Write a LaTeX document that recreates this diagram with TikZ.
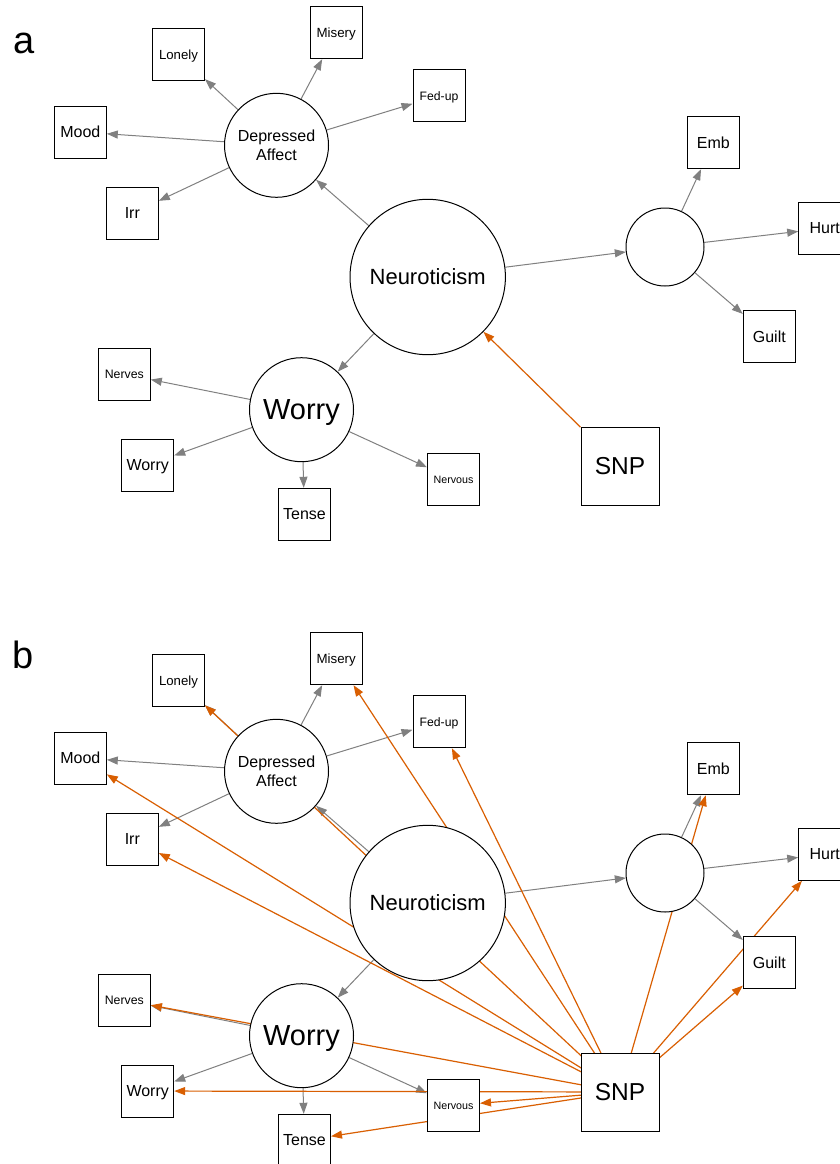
\documentclass[tikz,border=0pt]{standalone}
\usepackage{fontspec}
\setmainfont{Liberation Sans}
\usetikzlibrary{arrows.meta}
\pgfdeclarelayer{background}
\pgfdeclarelayer{canvas}
\pgfsetlayers{canvas,background,main}
\definecolor{edgegray}{RGB}{128,128,128}
\definecolor{snporange}{RGB}{217,95,2}
\tikzset{
  obs/.style={draw=black, line width=1pt, fill=white, minimum size=52pt, inner sep=0pt, text depth=0pt, font=\fontsize{16}{18}\selectfont},
  lat/.style={circle, draw=black, line width=1pt, fill=white, inner sep=0pt, align=center},
  grayedge/.style={draw=edgegray, line width=1pt, -{Triangle[length=11pt,width=8pt]}},
  orangeedge/.style={draw=snporange, line width=1.2pt, -{Triangle[length=11pt,width=8pt]}},
  paneltag/.style={anchor=base west, inner sep=0pt, font=\fontsize{38}{40}\selectfont}
}
\newcommand{\semstructure}{%
  \node[lat, minimum size=104pt, font=\fontsize{16}{19.5}\selectfont] (DA) at (276.5,145.3) {Depressed\\Affect};
  \node[lat, minimum size=155.4pt, font=\fontsize{22}{24}\selectfont] (Neu) at (427.7,277) {Neuroticism};
  \node[lat, minimum size=104pt, text depth=0pt, font=\fontsize{29}{32}\selectfont] (WorryLat) at (301.5,409.7) {Worry};
  \node[lat, minimum size=78pt] (C) at (665,247) {};
  \node[obs, font=\fontsize{13.2}{15}\selectfont] (Lonely) at (178.5,54.7) {Lonely};
  \node[obs, font=\fontsize{13.3}{15}\selectfont] (Misery) at (336.2,32.7) {Misery};
  \node[obs, font=\fontsize{12.2}{14}\selectfont] (Fedup) at (439,95.7) {Fed-up};
  \node[obs] (Mood) at (80.3,132) {Mood};
  \node[obs] (Irr) at (132.3,213.3) {Irr};
  \node[obs] (Emb) at (713.3,142.7) {Emb};
  \node[obs] (Hurt) at (824.7,228.3) {Hurt};
  \node[obs] (Guilt) at (769.3,336.7) {Guilt};
  \node[obs, font=\fontsize{12.3}{14}\selectfont] (Nerves) at (124.3,374.3) {Nerves};
  \node[obs] (WorryObs) at (147.7,465) {Worry};
  \node[obs] (Tense) at (304.5,514.3) {Tense};
  \node[obs, font=\fontsize{10.7}{12}\selectfont] (Nervous) at (453.5,479.4) {Nervous};
  \node[obs, minimum size=78pt, font=\fontsize{24.5}{27}\selectfont] (SNP) at (620,466) {SNP};
  \begin{pgfonlayer}{background}
    \draw[grayedge] (Neu) -- (DA);
    \draw[grayedge] (Neu) -- (C);
    \draw[grayedge] (Neu) -- (WorryLat);
    \foreach \t in {Lonely,Misery,Fedup,Mood,Irr} \draw[grayedge] (DA) -- (\t);
    \foreach \t in {Emb,Hurt,Guilt} \draw[grayedge] (C) -- (\t);
    \foreach \t in {Nerves,WorryObs,Tense,Nervous} \draw[grayedge] (WorryLat) -- (\t);
  \end{pgfonlayer}
}
\begin{document}
\begin{tikzpicture}[x=1pt, y=-1pt]
  \begin{pgfonlayer}{canvas}
    \fill[white] (0,0) rectangle (839,1164);
  \end{pgfonlayer}
  \useasboundingbox (0,0) rectangle (839,1164);
  \node[paneltag] (taga) at (13,54) {a};
  \node[paneltag] (tagb) at (12,668) {b};
  \begin{scope}[name prefix=a-]
    \semstructure
    \begin{pgfonlayer}{background}
      \draw[orangeedge] (SNP) -- (Neu);
    \end{pgfonlayer}
  \end{scope}
  \begin{scope}[name prefix=b-, yshift=-626pt]
    \semstructure
    \begin{pgfonlayer}{background}
      \foreach \t in {Lonely,Misery,Fedup,Mood,Irr,Emb,Hurt,Guilt,Nerves,WorryObs,Tense,Nervous}
        \draw[orangeedge] (SNP.center) -- (\t);
    \end{pgfonlayer}
  \end{scope}
\end{tikzpicture}
\end{document}
